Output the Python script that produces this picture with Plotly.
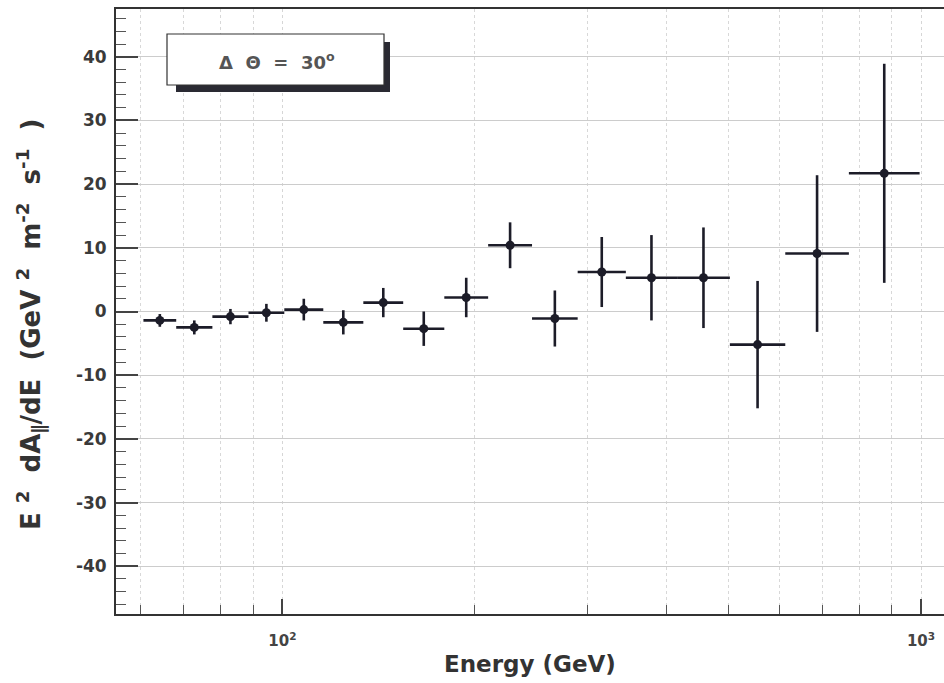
import numpy as np
import plotly.graph_objects as go

# ---- data ----
bin_edges = [60.6, 68.2, 77.7, 88.5, 100.7, 115.9, 133.9, 154.6, 179.3, 210.0,
             246.0, 290.0, 345.0, 415.0, 502.0, 613.0, 771.0, 995.0]
values = [-1.4, -2.5, -0.8, -0.2, 0.3, -1.7, 1.4, -2.7, 2.2, 10.4,
          -1.1, 6.2, 5.3, 5.3, -5.2, 9.1, 21.7]
errors = [1.0, 1.1, 1.2, 1.4, 1.7, 1.9, 2.3, 2.7, 3.1, 3.6,
          4.4, 5.5, 6.7, 7.9, 10.0, 12.3, 17.2]
y_ticks = [-40, -30, -20, -10, 0, 10, 20, 30, 40]
y_tick_text = ["-40", "-30", "-20", "-10", "0", "10", "20", "30", "40"]
x_major = [100, 1000]
x_major_text = ["10<sup>2</sup>", "10<sup>3</sup>"]
x_minor = [60, 70, 80, 90, 200, 300, 400, 500, 600, 700, 800, 900]
label_text = "Δ  Θ  =  30<sup>o</sup>"
x_title = "Energy (GeV)"
y_title = "E <sup>2</sup>  dA<sub>∥</sub>/dE  (GeV <sup>2</sup>  m<sup>-2</sup>  s<sup>-1</sup>  )"

lo = np.array(bin_edges[:-1])
hi = np.array(bin_edges[1:])
xc = np.sqrt(lo * hi)

W, H = 944, 683
L, R, T, B = 116, 0, 9, 69
pw, ph = W - L - R, H - T - B

def px(x):
    return (x - L) / pw

def py(y):
    return (H - B - y) / ph

ink = "#1c1c28"
FONT = "DejaVu Sans"
fig = go.Figure()
fig.add_trace(go.Scatter(
    x=xc, y=values, mode="markers",
    marker=dict(color=ink, size=9),
    error_y=dict(type="data", array=errors, color=ink, thickness=2.6, width=0),
    error_x=dict(type="data", array=hi - xc, arrayminus=xc - lo, symmetric=False,
                 color=ink, thickness=2.6, width=0),
    showlegend=False,
))

fig.update_layout(
    width=W, height=H,
    margin=dict(l=L, r=R, t=T, b=B),
    paper_bgcolor="white", plot_bgcolor="white",
    xaxis=dict(
        type="log", range=[1.7395, 3.036],
        tickmode="array", tickvals=x_major, ticktext=x_major_text,
        ticks="inside", ticklen=15, tickwidth=1.5, tickcolor="#444",
        tickfont=dict(family=FONT, size=15, color="#444", weight="bold"),
        ticklabelstandoff=12,
        showline=True, linecolor="#333", linewidth=2, mirror=True,
        showgrid=True, gridcolor="#d6d6d6", gridwidth=1, griddash="dot",
        minor=dict(tickmode="array", tickvals=x_minor, ticks="inside", ticklen=9,
                   tickwidth=1.2, tickcolor="#555", showgrid=True,
                   gridcolor="#d8d8d8", gridwidth=1, griddash="dot"),
        zeroline=False,
    ),
    yaxis=dict(
        range=[-47.5, 47.5],
        tickmode="array", tickvals=y_ticks, ticktext=y_tick_text,
        ticks="inside", ticklen=22, tickwidth=1.5, tickcolor="#444",
        tickfont=dict(family=FONT, size=17, color="#3a3a3a", weight="bold"),
        ticklabelstandoff=4,
        showline=True, linecolor="#333", linewidth=2, mirror=False,
        showgrid=True, gridcolor="#cccccc", gridwidth=1,
        minor=dict(dtick=2, ticks="inside", ticklen=10, tickwidth=1.2,
                   tickcolor="#555", showgrid=False),
        zeroline=False,
    ),
    shapes=[
        dict(type="rect", xref="paper", yref="paper",
             x0=px(176), x1=px(390), y0=py(92), y1=py(42),
             fillcolor="#2a2a33", line=dict(width=0), layer="above"),
        dict(type="rect", xref="paper", yref="paper",
             x0=px(167), x1=px(384), y0=py(85), y1=py(34),
             fillcolor="white", line=dict(color="#333", width=1.2), layer="above"),
    ],
    annotations=[
        dict(text=label_text, xref="paper", yref="paper",
             x=px(277), y=py(61), xanchor="center", yanchor="middle",
             showarrow=False,
             font=dict(family=FONT, size=18, color="#555", weight="bold")),
        dict(text=x_title, xref="paper", yref="paper",
             x=px(530), y=py(664), xanchor="center", yanchor="middle",
             showarrow=False,
             font=dict(family=FONT, size=23, color="#333", weight="bold")),
        dict(text=y_title, xref="paper", yref="paper",
             x=px(30), y=py(325), xanchor="center", yanchor="middle",
             showarrow=False, textangle=-90,
             font=dict(family=FONT, size=26, color="#333", weight="bold")),
    ],
)

fig.write_html("out.html")
